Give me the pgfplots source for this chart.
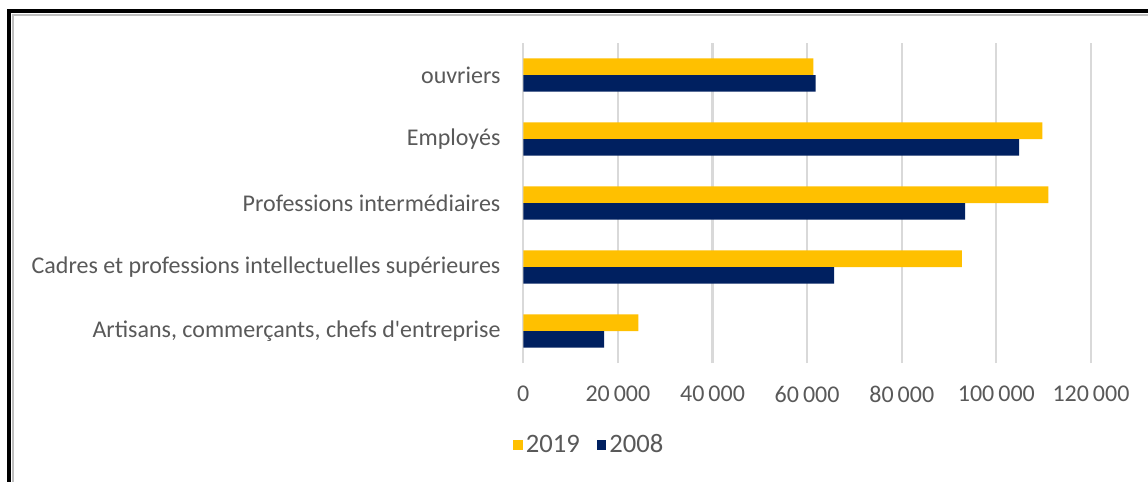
\documentclass[border=0pt]{standalone}
\usepackage{fontspec}
\setmainfont{Carlito}
\usepackage{pgfplots}
\pgfplotsset{compat=1.18}
\definecolor{cA}{HTML}{FFC000}
\definecolor{cB}{HTML}{002060}
\definecolor{txt}{HTML}{595959}
\definecolor{grd}{HTML}{D9D9D9}
\begin{document}
\begin{tikzpicture}
\useasboundingbox (0,0) rectangle (574pt,-241pt);
\fill[white] (0,0) rectangle (574pt,-241pt);
\draw[black!25, line width=1pt] (6.6pt,-241pt) -- (6.6pt,-7.3pt) -- (574pt,-7.3pt);
\draw[black, line width=1.7pt] (4.4pt,-241pt) -- (4.4pt,-5.5pt) -- (574pt,-5.5pt);
\begin{axis}[
  at={(261.65pt,-181.5pt)}, anchor=south west,
  scale only axis, width=283.85pt, height=160pt,
  xbar, bar width=8.3pt,
  xmin=0, xmax=120000, ymin=-0.5, ymax=4.5,
  xtick={0,20000,40000,60000,80000,100000,120000},
  xticklabels={0,20\,000,40\,000,60\,000,80\,000,100\,000,120\,000},
  ytick={0,1,2,3,4},
  yticklabels={{Artisans, commerçants, chefs d\textquotesingle entreprise},{Cadres et professions intellectuelles supérieures},{Professions intermédiaires},{Employés},{ouvriers}},
  axis line style={draw=none},
  tick style={draw=none},
  xmajorgrids, major grid style={grd, line width=1.1pt},
  scaled x ticks=false,
  xticklabel style={yshift=-8pt},
  yticklabel style={xshift=-3.65pt},
  ticklabel style={font=\fontsize{12}{14}\selectfont, text=txt},
  legend style={draw=none, fill=none, at={(-0.0182,-0.256)}, anchor=west, legend columns=2, inner sep=0pt, font=\fontsize{13.3}{15}\selectfont, text=txt, nodes={inner sep=1.5pt}, /tikz/every even column/.append style={column sep=7pt}},
]
\addplot[fill=cA, draw=none, bar shift=4.15pt, legend image code/.code={\fill[cA] (0pt,-2.4pt) rectangle (4.8pt,2.4pt);}]
  coordinates {(24300,0) (92700,1) (111000,2) (109700,3) (61300,4)};
\addplot[fill=cB, draw=none, bar shift=-4.15pt, legend image code/.code={\fill[cB] (0pt,-2.4pt) rectangle (4.8pt,2.4pt);}]
  coordinates {(17100,0) (65700,1) (93400,2) (104800,3) (61800,4)};
\legend{2019,2008}
\end{axis}
\end{tikzpicture}
\end{document}
